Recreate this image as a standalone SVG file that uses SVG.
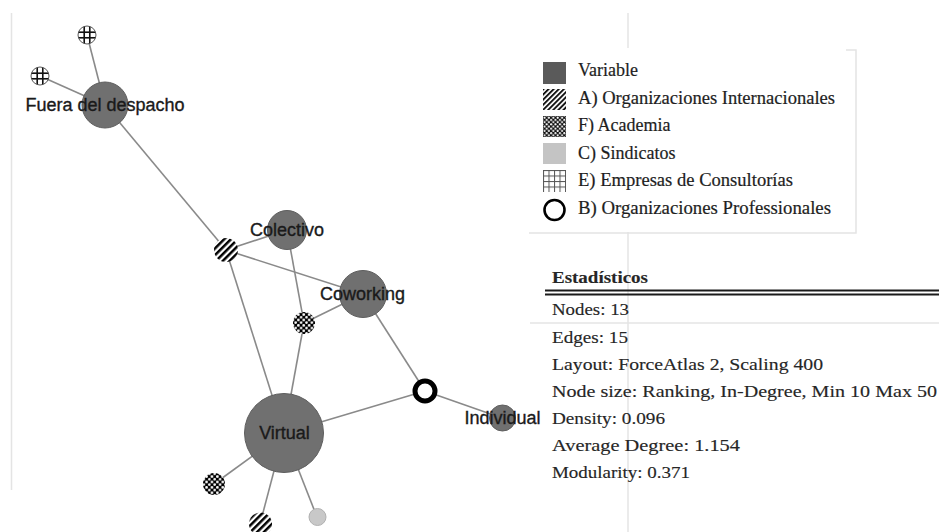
<svg xmlns="http://www.w3.org/2000/svg" width="939" height="532" viewBox="0 0 939 532">
<style>
.edge{stroke:#8a8a8a;stroke-width:1.6;fill:none}
.var{fill:#707070;stroke:#5e5e5e;stroke-width:1}
.lbl{font-family:"Liberation Sans",Arial,sans-serif;font-size:18px;fill:#1a1a1a;stroke:#1a1a1a;stroke-width:0.35;text-anchor:middle}
.leg{font-family:"Liberation Serif","Times New Roman",serif;font-size:18px;fill:#1e1e1e;stroke:#1e1e1e;stroke-width:0.2}
.st{font-family:"Liberation Serif","Times New Roman",serif;font-size:17px;fill:#262626;stroke:#262626;stroke-width:0.15}
.faint{stroke:#e4e4e4;stroke-width:1.5;fill:none}
</style>
<defs>
<pattern id="stripes" patternUnits="userSpaceOnUse" width="4.8" height="4.8" patternTransform="rotate(45)">
<rect width="4.8" height="4.8" fill="#fff"/>
<rect width="2.5" height="4.8" fill="#000"/>
</pattern>
<pattern id="stripesL" patternUnits="userSpaceOnUse" width="3.6" height="3.6" patternTransform="rotate(45)">
<rect width="3.6" height="3.6" fill="#fff"/>
<rect width="1.9" height="3.6" fill="#111"/>
</pattern>
<pattern id="dots" patternUnits="userSpaceOnUse" width="5.4" height="5.4">
<rect width="5.4" height="5.4" fill="#000"/>
<circle cx="1.35" cy="1.35" r="1.35" fill="#fff"/>
<circle cx="4.05" cy="4.05" r="1.35" fill="#fff"/>
</pattern>
<pattern id="dotsL" patternUnits="userSpaceOnUse" width="4.4" height="4.4">
<rect width="4.4" height="4.4" fill="#111"/>
<circle cx="1.1" cy="1.1" r="1.05" fill="#fff"/>
<circle cx="3.3" cy="3.3" r="1.05" fill="#fff"/>
</pattern>
<pattern id="grid" patternUnits="objectBoundingBox" patternContentUnits="objectBoundingBox" width="1" height="1">
<rect width="1" height="1" fill="#fff"/>
<rect x="0.3" y="0" width="0.09" height="1" fill="#111"/>
<rect x="0.61" y="0" width="0.09" height="1" fill="#111"/>
<rect x="0" y="0.3" width="1" height="0.09" fill="#111"/>
<rect x="0" y="0.61" width="1" height="0.09" fill="#111"/>
</pattern>
<pattern id="gridL" patternUnits="userSpaceOnUse" width="5.5" height="5.5" x="543" y="170">
<rect width="5.5" height="5.5" fill="#fff"/>
<rect x="0" y="0" width="1" height="5.5" fill="#555"/>
<rect x="0" y="0" width="5.5" height="1" fill="#555"/>
</pattern>
</defs>

<g id="background-lines">
<line class="faint" x1="11.5" y1="13" x2="11.5" y2="490"/>
<line class="faint" x1="628" y1="13" x2="628" y2="48"/>
<line class="faint" x1="628" y1="232" x2="628" y2="532"/>
<line class="faint" x1="530" y1="323" x2="939" y2="323"/>
<polyline class="faint" points="846,50 856,50 856,233 529,233"/>
</g>

<g id="connectors">
<line class="edge" x1="87" y1="35" x2="105" y2="105"/>
<line class="edge" x1="40" y1="76" x2="105" y2="105"/>
<line class="edge" x1="105" y1="105" x2="226" y2="250"/>
<line class="edge" x1="226" y1="250" x2="287" y2="230"/>
<line class="edge" x1="226" y1="250" x2="363" y2="294"/>
<line class="edge" x1="226" y1="250" x2="284" y2="433"/>
<line class="edge" x1="287" y1="230" x2="304" y2="323"/>
<line class="edge" x1="363" y1="294" x2="304" y2="323"/>
<line class="edge" x1="304" y1="323" x2="284" y2="433"/>
<line class="edge" x1="363" y1="294" x2="425" y2="391"/>
<line class="edge" x1="425" y1="391" x2="284" y2="433"/>
<line class="edge" x1="425" y1="391" x2="502" y2="418"/>
<line class="edge" x1="284" y1="433" x2="214" y2="484"/>
<line class="edge" x1="284" y1="433" x2="260" y2="524"/>
<line class="edge" x1="284" y1="433" x2="317" y2="517"/>
</g>

<g id="node-cons1"><circle cx="87" cy="35" r="9" fill="url(#grid)" stroke="#444" stroke-width="0.9"/></g>
<g id="node-cons2"><circle cx="40" cy="76" r="9" fill="url(#grid)" stroke="#444" stroke-width="0.9"/></g>
<g id="node-fuera"><circle class="var" cx="105" cy="105" r="23"/><text class="lbl" x="105" y="111">Fuera del despacho</text></g>
<g id="node-a1"><circle cx="226" cy="250" r="12" fill="url(#stripes)"/></g>
<g id="node-colectivo"><circle class="var" cx="287" cy="230" r="19.5"/><text class="lbl" x="287" y="236">Colectivo</text></g>
<g id="node-f1"><circle cx="304" cy="323" r="11" fill="url(#dots)"/></g>
<g id="node-coworking"><circle class="var" cx="363" cy="294" r="23.5"/><text class="lbl" x="362.5" y="300">Coworking</text></g>
<g id="node-virtual"><circle class="var" cx="284" cy="433" r="39.5"/><text class="lbl" x="284.5" y="439">Virtual</text></g>
<g id="node-b"><circle cx="425" cy="391" r="10" fill="#fff" stroke="#000" stroke-width="5"/></g>
<g id="node-individual"><circle class="var" cx="502.5" cy="418" r="13"/><text class="lbl" x="502.5" y="424">Individual</text></g>
<g id="node-f2"><circle cx="214" cy="484" r="11" fill="url(#dots)"/></g>
<g id="node-a2"><circle cx="260.5" cy="524" r="11.5" fill="url(#stripes)"/></g>
<g id="node-c"><circle cx="317.5" cy="517" r="8.5" fill="#c8c8c8" stroke="#b0b0b0" stroke-width="1"/></g>

<g id="legend">
<rect x="543" y="62" width="23" height="22" fill="#5a5a5a"/>
<text class="leg" x="578" y="76">Variable</text>
<rect x="543" y="89" width="23" height="21" fill="url(#stripesL)"/>
<text class="leg" x="578" y="103.5" textLength="257" lengthAdjust="spacingAndGlyphs">A) Organizaciones Internacionales</text>
<rect x="543" y="116" width="23" height="21" fill="url(#dotsL)"/>
<text class="leg" x="578" y="131">F) Academia</text>
<rect x="543" y="143" width="23" height="21" fill="#c4c4c4"/>
<text class="leg" x="578" y="158.5">C) Sindicatos</text>
<rect x="543" y="170" width="23" height="22" fill="url(#gridL)"/>
<text class="leg" x="578" y="186" textLength="215" lengthAdjust="spacingAndGlyphs">E) Empresas de Consultorías</text>
<circle cx="554.5" cy="210" r="10" fill="#fff" stroke="#000" stroke-width="2.6"/>
<text class="leg" x="578" y="214" textLength="253" lengthAdjust="spacingAndGlyphs">B) Organizaciones Professionales</text>
</g>

<g id="statistics">
<text class="st" x="552" y="283" font-weight="bold" textLength="96" lengthAdjust="spacingAndGlyphs">Estadísticos</text>
<line x1="545" y1="290.5" x2="939" y2="290.5" stroke="#1a1a1a" stroke-width="2"/>
<line x1="545" y1="294.5" x2="939" y2="294.5" stroke="#1a1a1a" stroke-width="2"/>
<text class="st" x="552" y="315" textLength="77" lengthAdjust="spacingAndGlyphs">Nodes: 13</text>
<text class="st" x="552" y="343" textLength="76" lengthAdjust="spacingAndGlyphs">Edges: 15</text>
<text class="st" x="552" y="370" textLength="271" lengthAdjust="spacingAndGlyphs">Layout: ForceAtlas 2, Scaling 400</text>
<text class="st" x="552" y="397" textLength="385" lengthAdjust="spacingAndGlyphs">Node size: Ranking, In-Degree, Min 10 Max 50</text>
<text class="st" x="552" y="424" textLength="113" lengthAdjust="spacingAndGlyphs">Density: 0.096</text>
<text class="st" x="552" y="451" textLength="188" lengthAdjust="spacingAndGlyphs">Average Degree: 1.154</text>
<text class="st" x="552" y="478" textLength="138" lengthAdjust="spacingAndGlyphs">Modularity: 0.371</text>
</g>
</svg>
